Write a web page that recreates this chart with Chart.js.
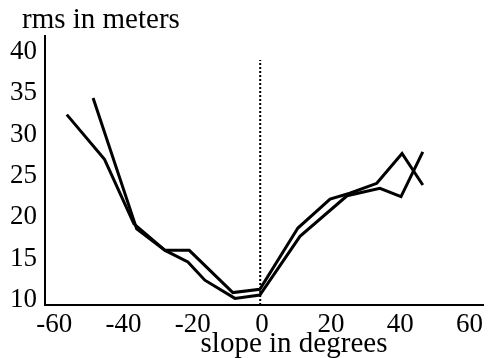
<!DOCTYPE html>
<html>
<head>
<meta charset="utf-8">
<script src="https://cdn.jsdelivr.net/npm/chart.js@4"></script>
<style>
  html, body { margin: 0; padding: 0; background: #fff; }
  #wrap { width: 489px; height: 358px; }
</style>
</head>
<body>
<div id="wrap"><canvas id="rmsChart" width="489" height="358"></canvas></div>
<script>
const xTicks = [-60, -40, -20, 0, 20, 40, 60];
const yTicks = [10, 15, 20, 25, 30, 35, 40];

const slopeA = [-56.4, -45.5, -37.0, -28.0, -21.0, -8.4, -0.6, 10.4, 19.7, 25.4, 33.2, 40.5, 46.5];
const rmsA   = [32.4, 27.0, 19.2, 16.0, 16.0, 10.9, 11.3, 18.7, 22.2, 22.9, 24.1, 27.7, 23.9];

const slopeB = [-48.8, -36.2, -28.0, -21.4, -16.5, -7.8, -0.6, 11.0, 24.6, 34.1, 40.2, 46.5];
const rmsB   = [34.4, 18.6, 16.0, 14.6, 12.4, 10.2, 10.6, 17.7, 22.6, 23.5, 22.5, 27.9];

const zeroX = [-0.5, -0.5];
const zeroY = [9.4, 39.0];

const serif = '"Liberation Serif", "DejaVu Serif", serif';

const toPoints = (xs, ys) => xs.map((x, i) => ({ x: x, y: ys[i] }));

const axisTitles = {
    id: 'axisTitles',
    afterDraw(chart) {
        const ctx = chart.ctx;
        ctx.save();
        ctx.fillStyle = '#000';
        ctx.font = '29px ' + serif;
        ctx.textBaseline = 'alphabetic';
        ctx.textAlign = 'left';
        ctx.fillText('rms in meters', 22, 28);
        ctx.textAlign = 'center';
        ctx.fillText('slope in degrees', 294, 352);
        ctx.restore();
    }
};

new Chart(document.getElementById('rmsChart'), {
    type: 'line',
    data: {
        datasets: [
            {
                data: toPoints(slopeA, rmsA),
                borderColor: '#000',
                borderWidth: 3,
                pointRadius: 0,
                tension: 0
            },
            {
                data: toPoints(slopeB, rmsB),
                borderColor: '#000',
                borderWidth: 3,
                pointRadius: 0,
                tension: 0
            },
            {
                data: toPoints(zeroX, zeroY),
                borderColor: '#000',
                borderWidth: 2,
                borderDash: [2, 2],
                pointRadius: 0
            }
        ]
    },
    options: {
        responsive: false,
        animation: false,
        layout: { padding: { top: 36, right: 6, left: 0, bottom: 0 } },
        plugins: {
            legend: { display: false },
            tooltip: { enabled: false }
        },
        scales: {
            x: {
                type: 'linear',
                min: -62.7,
                max: 63.9,
                afterBuildTicks: s => { s.ticks = xTicks.map(v => ({ value: v })); },
                afterFit: s => { s.height = 53; },
                grid: { display: false, drawTicks: false },
                border: { color: '#000', width: 2 },
                ticks: {
                    color: '#000',
                    padding: 4,
                    maxRotation: 0,
                    font: { family: serif, size: 27 }
                }
            },
            y: {
                type: 'linear',
                min: 9.4,
                max: 41.9,
                afterBuildTicks: s => { s.ticks = yTicks.map(v => ({ value: v })); },
                afterFit: s => { s.width = 45; },
                grid: { display: false, drawTicks: false },
                border: { color: '#000', width: 2 },
                ticks: {
                    color: '#000',
                    padding: 8,
                    font: { family: serif, size: 27 }
                }
            }
        }
    },
    plugins: [axisTitles]
});
</script>
</body>
</html>
